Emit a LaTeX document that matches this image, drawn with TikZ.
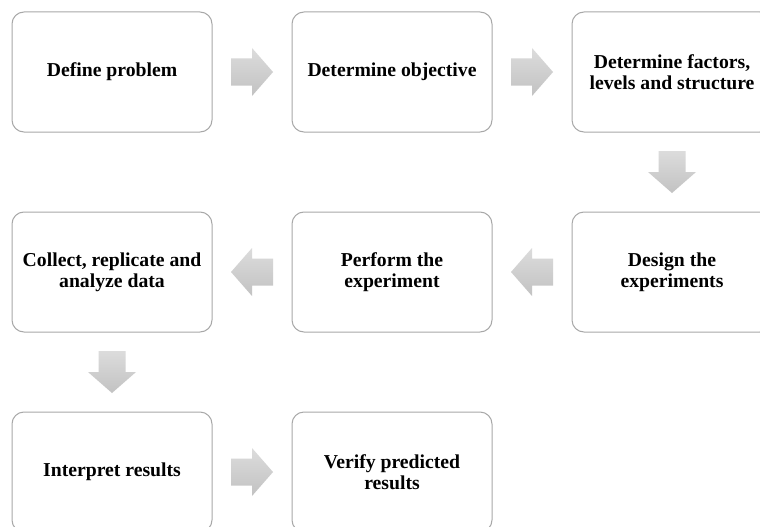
\documentclass[tikz,border=0pt]{standalone}
\usepackage{fontspec}
\setmainfont{Liberation Serif}
\usetikzlibrary{calc}

\definecolor{boxline}{RGB}{168,168,168}
\definecolor{arrowtop}{RGB}{220,220,220}
\definecolor{arrowbot}{RGB}{194,194,194}

\tikzset{
  stepbox/.style={draw=boxline, line width=1pt, fill=white, rounded corners=12pt,
    minimum width=200pt, minimum height=120pt, align=center,
    font=\fontsize{19.7}{21}\selectfont\bfseries, inner sep=0pt},
  arrowfill/.style={top color=arrowtop, bottom color=arrowbot, draw=none},
  % block arrows: shaft 27, head 48, length 42 (y axis points down)
  pics/flowright/.style={code={
    \shade[arrowfill] (-21,-13.5) -- (0,-13.5) -- (0,-24) -- (21,0)
      -- (0,24) -- (0,13.5) -- (-21,13.5) -- cycle;}},
  pics/flowleft/.style={code={
    \shade[arrowfill] (21,-13.5) -- (0,-13.5) -- (0,-24) -- (-21,0)
      -- (0,24) -- (0,13.5) -- (21,13.5) -- cycle;}},
  pics/flowdown/.style={code={
    \shade[arrowfill] (-13.5,-21) -- (13.5,-21) -- (13.5,0) -- (24,0)
      -- (0,21) -- (-24,0) -- (-13.5,0) -- cycle;}},
}

\begin{document}
\begin{tikzpicture}[x=1pt,y=-1pt]
\useasboundingbox (0,0) rectangle (760,527);
\clip (0,0) rectangle (760,527);
\fill[white] (0,0) rectangle (760,527);

% process steps
\node[stepbox] (b1) at (112,72)  {Define problem};
\node[stepbox] (b2) at (392,72)  {Determine objective};
\node[stepbox] (b3) at (672,72)  {Determine factors,\\levels and structure};
\node[stepbox] (b4) at (672,272) {Design the\\experiments};
\node[stepbox] (b5) at (392,272) {Perform the\\experiment};
\node[stepbox] (b6) at (112,272) {Collect, replicate and\\analyze data};
\node[stepbox] (b7) at (112,472) {Interpret results};
\node[stepbox] (b8) at (392,472) {Verify predicted\\results};

% block arrows between consecutive steps
\pic at ($(b1.east)!0.5!(b2.west)$) {flowright};
\pic at ($(b2.east)!0.5!(b3.west)$) {flowright};
\pic at ($(b3.south)!0.5!(b4.north)$) {flowdown};
\pic at ($(b4.west)!0.5!(b5.east)$) {flowleft};
\pic at ($(b5.west)!0.5!(b6.east)$) {flowleft};
\pic at ($(b6.south)!0.5!(b7.north)$) {flowdown};
\pic at ($(b7.east)!0.5!(b8.west)$) {flowright};
\end{tikzpicture}
\end{document}
